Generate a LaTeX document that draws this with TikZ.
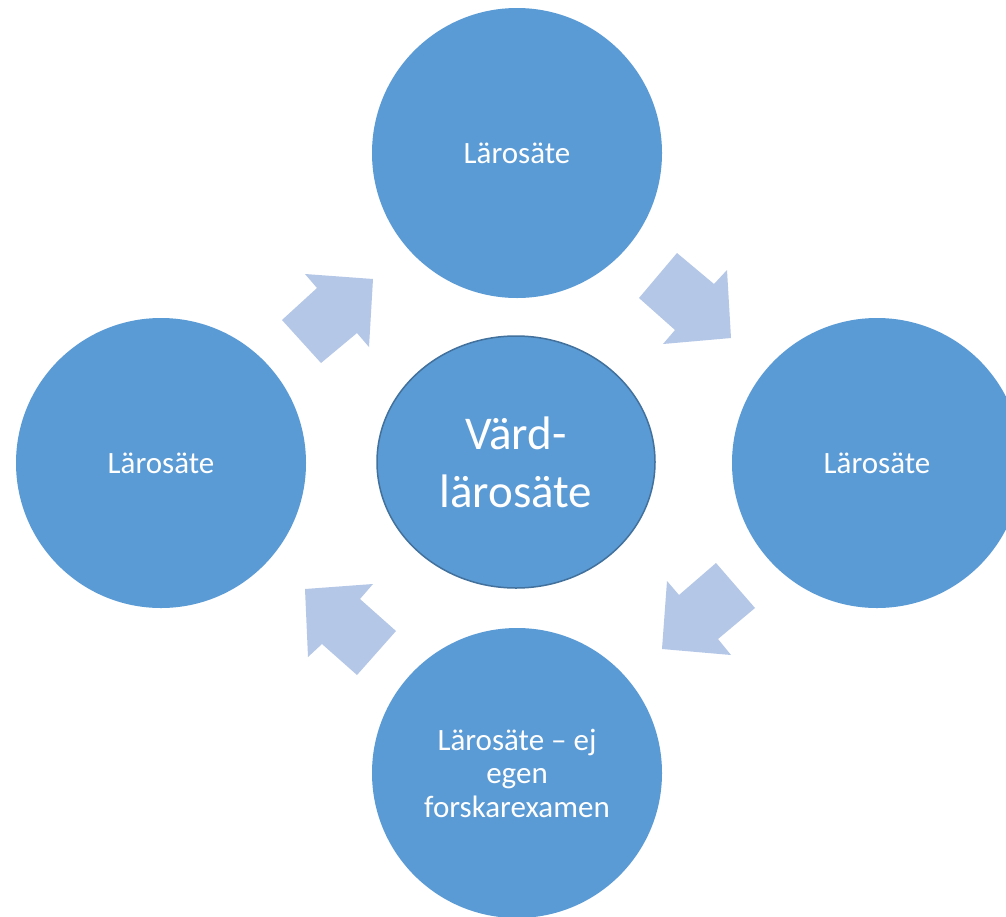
\documentclass[tikz,border=0pt]{standalone}
\usepackage{fontspec}
\setmainfont{Carlito}
\usetikzlibrary{shapes.geometric}
\definecolor{circfill}{HTML}{5B9BD5}
\definecolor{circline}{HTML}{41719C}
\definecolor{arrowfill}{HTML}{B4C7E7}
\tikzset{
  outer/.style={circle, fill=circfill, draw=none, minimum size=290pt, inner sep=0pt,
    text=white, align=center, font=\fontsize{31}{33.5}\selectfont},
  hub/.style={ellipse, fill=circfill, draw=circline, line width=1.5pt,
    minimum width=278pt, minimum height=252pt, inner sep=0pt,
    text=white, align=center, font=\fontsize{47}{58}\selectfont},
  blockarrow/.style={fill=arrowfill, draw=none}
}
\begin{document}
\begin{tikzpicture}[x=1pt,y=-1pt]
\useasboundingbox (0,0) rectangle (1006,916);
\clip (0,0) rectangle (1006,916);
\fill[white] (0,0) rectangle (1006,916);
% block arrows
\fill[blockarrow] (373,279) -- (369,347) -- (357,333) -- (321,363) -- (282,320) -- (317,288) -- (305,274) -- cycle;
\fill[blockarrow] (677,253) -- (714,284) -- (727,270) -- (731,338) -- (663,344) -- (675,330) -- (639,298) -- cycle;
\fill[blockarrow] (716,563) -- (755,608) -- (718,639) -- (731,655) -- (662,649) -- (667,581) -- (679,595) -- cycle;
\fill[blockarrow] (305,589) -- (373,584) -- (360,599) -- (396,631) -- (357,675) -- (322,644) -- (308,657) -- cycle;
% circles
\node[outer] (top) at (517,153) {Lärosäte};
\node[outer] (left) at (161,463) {Lärosäte};
\node[outer] (right) at (877,463) {Lärosäte};
\node[outer] (bottom) at (517,773) {Lärosäte – ej\\egen\\forskarexamen};
\node[hub] (center) at (516,462) {Värd-\\lärosäte};
\end{tikzpicture}
\end{document}
